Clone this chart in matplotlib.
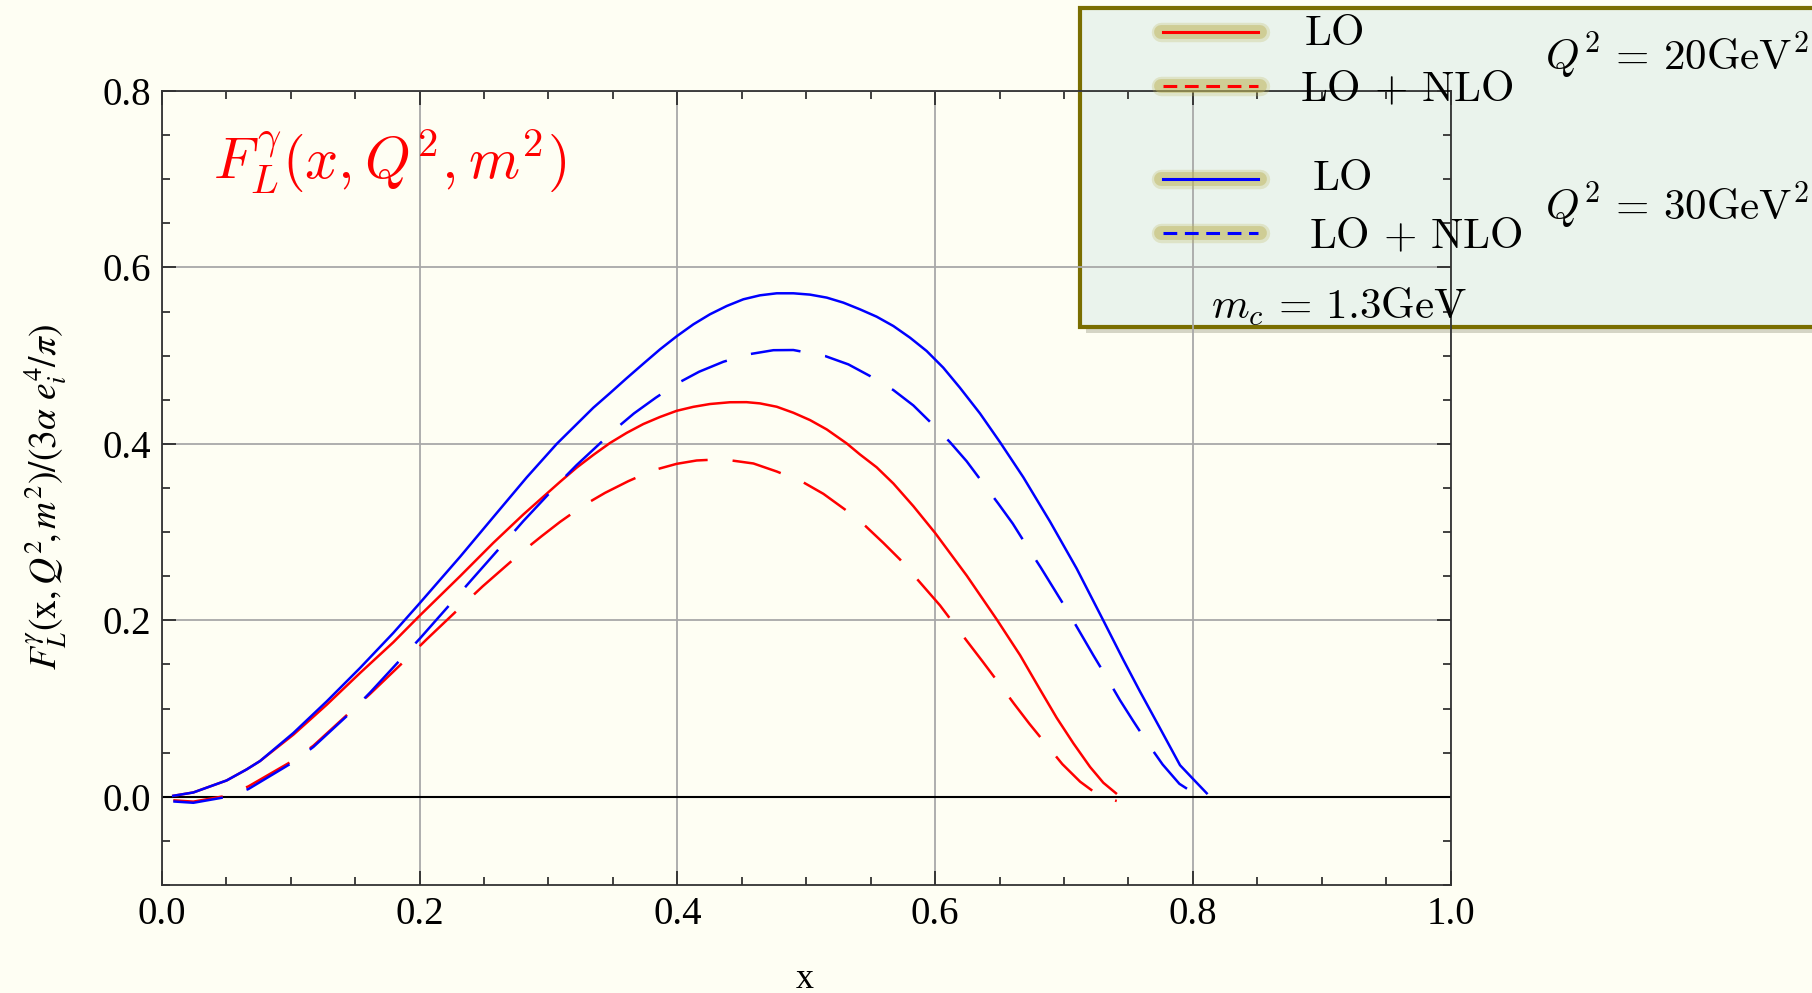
import matplotlib
matplotlib.use('Agg')
import matplotlib.pyplot as plt
from matplotlib.lines import Line2D
from matplotlib.patches import Rectangle
from matplotlib.ticker import MultipleLocator, FormatStrFormatter

# ---------------- data ----------------
x_lo30 = [0.0089, 0.0245, 0.0503, 0.0658, 0.0762, 0.102, 0.128, 0.1538, 0.1796, 0.1996, 0.2314,
          0.2572, 0.2831, 0.3064, 0.3348, 0.3477, 0.3607, 0.3736, 0.3865, 0.3995, 0.4124, 0.4253,
          0.4383, 0.4512, 0.4641, 0.4771, 0.49, 0.5029, 0.5159, 0.5288, 0.5417, 0.5546, 0.5676,
          0.5805, 0.5934, 0.6063, 0.6192, 0.6348, 0.6503, 0.6684, 0.6891, 0.7098, 0.7305, 0.746,
          0.7589, 0.7745, 0.79, 0.8003, 0.8107]
y_lo30 = [0.0011, 0.0049, 0.0185, 0.031, 0.0405, 0.0722, 0.1082, 0.146, 0.1857, 0.2186, 0.272,
          0.317, 0.362, 0.400, 0.441, 0.4575, 0.4745, 0.4909, 0.5071, 0.522, 0.5355, 0.5469,
          0.5563, 0.5639, 0.5684, 0.5707, 0.5707, 0.5692, 0.5658, 0.5601, 0.5525, 0.5442, 0.5336,
          0.5204, 0.5053, 0.4864, 0.4637, 0.4345, 0.402, 0.3622, 0.312, 0.2587, 0.1998, 0.1552,
          0.1194, 0.0776, 0.0358, 0.0199, 0.004]

x_nlo30 = [0.0089, 0.0245, 0.049, 0.0671, 0.102, 0.1176, 0.1473, 0.1615, 0.1899, 0.2003, 0.2275,
           0.2404, 0.2676, 0.2805, 0.3077, 0.3218, 0.3516, 0.3663, 0.3832, 0.4, 0.4169, 0.4357,
           0.4551, 0.4745, 0.49, 0.5146, 0.5327, 0.5495, 0.5676, 0.5831, 0.5973, 0.6115, 0.6244,
           0.649, 0.6602, 0.671, 0.6821, 0.6922, 0.7026, 0.7129, 0.7229, 0.7331, 0.7434, 0.7538,
           0.7654, 0.7765, 0.7895, 0.803, 0.8107]
y_nlo30 = [-0.0053, -0.0068, -0.0005, 0.0087, 0.0393, 0.0565, 0.0966, 0.118, 0.163, 0.1795,
           0.2245, 0.246, 0.291, 0.3125, 0.355, 0.3759, 0.4164, 0.4345, 0.4523, 0.4686, 0.4818,
           0.4931, 0.5015, 0.5062, 0.5064, 0.4996, 0.4901, 0.4769, 0.461, 0.4436, 0.4232, 0.402,
           0.3804, 0.3323, 0.3097, 0.2846, 0.2595, 0.2356, 0.2109, 0.1851, 0.16, 0.1353, 0.1095,
           0.0856, 0.0597, 0.0366, 0.0147, 0.002, -0.0028]

x_lo20 = [0.0089, 0.0245, 0.0503, 0.0658, 0.0762, 0.102, 0.128, 0.1538, 0.1796, 0.1996, 0.2314,
          0.2572, 0.2805, 0.309, 0.3218, 0.3348, 0.3477, 0.3607, 0.3736, 0.3865, 0.3995, 0.4124,
          0.4253, 0.4408, 0.4537, 0.4641, 0.4771, 0.49, 0.5029, 0.5159, 0.5314, 0.5417, 0.5546,
          0.5676, 0.5831, 0.5999, 0.6245, 0.6478, 0.6659, 0.6814, 0.6943, 0.7073, 0.7202, 0.7305,
          0.7403]
y_lo20 = [0.0011, 0.0049, 0.0185, 0.031, 0.0405, 0.0703, 0.1044, 0.1403, 0.1751, 0.2046, 0.25,
          0.2878, 0.32, 0.357, 0.373, 0.3875, 0.401, 0.4125, 0.4225, 0.4305, 0.4375, 0.442,
          0.4452, 0.4472, 0.4473, 0.4459, 0.4421, 0.4353, 0.427, 0.4164, 0.4005, 0.388, 0.3735,
          0.3551, 0.3294, 0.2992, 0.2507, 0.201, 0.1605, 0.1215, 0.0895, 0.0605, 0.0338, 0.0159,
          0.004]

x_nlo20 = [0.0089, 0.0245, 0.049, 0.0671, 0.102, 0.1176, 0.1473, 0.1615, 0.1926, 0.2055, 0.2352,
           0.249, 0.2792, 0.2947, 0.309, 0.3271, 0.3439, 0.3619, 0.3808, 0.3995, 0.415, 0.4305,
           0.4401, 0.459, 0.4771, 0.497, 0.5133, 0.5301, 0.5461, 0.5598, 0.5728, 0.6038, 0.625,
           0.6369, 0.6491, 0.6612, 0.6731, 0.686, 0.6987, 0.7125, 0.7228, 0.7305, 0.7409]
y_nlo20 = [-0.004, -0.0055, 0.0008, 0.0117, 0.0412, 0.0579, 0.0976, 0.1165, 0.160, 0.1785, 0.2197,
           0.2386, 0.2772, 0.2954, 0.3116, 0.3302, 0.3445, 0.3577, 0.3699, 0.3774, 0.3812, 0.3823,
           0.3816, 0.3778, 0.3687, 0.357, 0.3434, 0.3256, 0.3067, 0.2878, 0.2689, 0.2169, 0.1759,
           0.1532, 0.1294, 0.1055, 0.0828, 0.0597, 0.037, 0.0171, 0.006, 0.0, -0.0048]

x_ticks = [0.0, 0.2, 0.4, 0.6, 0.8, 1.0]
y_ticks = [0.0, 0.2, 0.4, 0.6, 0.8]

title_text = r'$F_L^{\gamma}(x,Q^2,m^2)$'
ylabel_text = r'$F_L^{\gamma}(\mathrm{x},Q^2\!,m^2)/(3\alpha\ e_i^4/\pi)$'
xlabel_text = 'x'
leg_lo = r'$\mathrm{LO}$'
leg_nlo = r'$\mathrm{LO}\,+\,\mathrm{NLO}$'
leg_q20 = r'$Q^2\,=\,20\mathrm{GeV}^2$'
leg_q30 = r'$Q^2\,=\,30\mathrm{GeV}^2$'
leg_mc = r'$m_c\,=\,1.3\mathrm{GeV}$'

# ---------------- style ----------------
plt.rcParams['font.family'] = ['Liberation Serif', 'DejaVu Serif']
plt.rcParams['mathtext.fontset'] = 'cm'

W, H = 1812, 993
BG = '#fefef3'
fig = plt.figure(figsize=(W / 100, H / 100), dpi=100, facecolor=BG)


def fx(px):
    return px / W


def fy(py):
    return 1 - py / H


ax = fig.add_axes([fx(161.8), 108 / H, (1450.7 - 161.8) / W, (885 - 91) / H])
ax.set_facecolor('none')
ax.set_zorder(1)

RED, BLUE = '#ff0000', '#0000ff'
LW = 1.8
DASH = (20, 10)
ax.plot(x_lo20, y_lo20, color=RED, lw=LW, zorder=3, solid_joinstyle='round')
ax.plot(x_nlo20, y_nlo20, color=RED, lw=LW, dashes=DASH, zorder=3, dash_joinstyle='round')
ax.plot(x_lo30, y_lo30, color=BLUE, lw=LW, zorder=3, solid_joinstyle='round')
ax.plot(x_nlo30, y_nlo30, color=BLUE, lw=LW, dashes=DASH, zorder=3, dash_joinstyle='round')

ax.set_xlim(0, 1.0)
ax.set_ylim(-0.1, 0.8)
ax.set_xticks(x_ticks)
ax.set_yticks(y_ticks)
ax.xaxis.set_minor_locator(MultipleLocator(0.05))
ax.yaxis.set_minor_locator(MultipleLocator(0.05))
ax.xaxis.set_major_formatter(FormatStrFormatter('%.1f'))
ax.yaxis.set_major_formatter(FormatStrFormatter('%.1f'))
ax.tick_params(which='both', direction='in', top=True, right=True, labelsize=28,
               color='#222222', width=1.2)
ax.tick_params(which='major', length=10, pad=8)
ax.tick_params(which='minor', length=6)
ax.grid(which='major', color='#a8a8a8', lw=1.3)
ax.set_axisbelow(True)
ax.axhline(0, color='black', lw=1.5, zorder=2)
for s in ax.spines.values():
    s.set_color('#333333')
    s.set_linewidth(1.3)

ax.text(0.04, 0.72, title_text, color=RED, fontsize=42, va='center', ha='left',
        transform=ax.transData)

fig.text(fx(46), fy(497), ylabel_text, rotation=90, fontsize=27, ha='center', va='center',
         math_fontfamily='stix')
fig.text(fx(805), fy(979), xlabel_text, fontsize=26, ha='center', va='center')

# ---------------- legend (drawn by hand) ----------------
shadow = Rectangle((fx(1086), fy(333)), (1840 - 1086) / W, (333 - 14) / H,
                   transform=fig.transFigure, facecolor='#8a8a70', edgecolor='none',
                   alpha=0.35, zorder=0.4)
fig.add_artist(shadow)
box = Rectangle((fx(1080), fy(327)), (1840 - 1080) / W, (327 - 8) / H,
                transform=fig.transFigure, facecolor='#eaf3ec', edgecolor='#7a6e00',
                lw=3, zorder=0.5)
fig.add_artist(box)

rows = [(32, RED, None), (85.5, RED, (4.5, 2.5)), (179, BLUE, None), (233, BLUE, (4.5, 2.5))]
for py, col, d in rows:
    for glw, ga in [(14, 0.25), (10, 0.45)]:
        fig.add_artist(Line2D([fx(1161), fx(1260)], [fy(py), fy(py)], color='#bdb45a',
                              lw=glw, alpha=ga, solid_capstyle='round', zorder=2,
                              transform=fig.transFigure))
    kw = dict(color=col, lw=2.2, zorder=3, transform=fig.transFigure)
    if d is not None:
        kw['dashes'] = d
    fig.add_artist(Line2D([fx(1163), fx(1258)], [fy(py), fy(py)], **kw))

TS = 31
fig.text(fx(1304), fy(35), leg_lo, fontsize=TS, va='center', ha='left', zorder=3)
fig.text(fx(1300), fy(91), leg_nlo, fontsize=TS, va='center', ha='left', zorder=3)
fig.text(fx(1312), fy(180), leg_lo, fontsize=TS, va='center', ha='left', zorder=3)
fig.text(fx(1309), fy(238), leg_nlo, fontsize=TS, va='center', ha='left', zorder=3)
fig.text(fx(1545), fy(56), leg_q20, fontsize=TS, va='center', ha='left', zorder=3)
fig.text(fx(1545), fy(206), leg_q30, fontsize=TS, va='center', ha='left', zorder=3)
fig.text(fx(1211), fy(307), leg_mc, fontsize=TS, va='center', ha='left', zorder=3)

fig.savefig('out.png', dpi=100, facecolor=BG)
